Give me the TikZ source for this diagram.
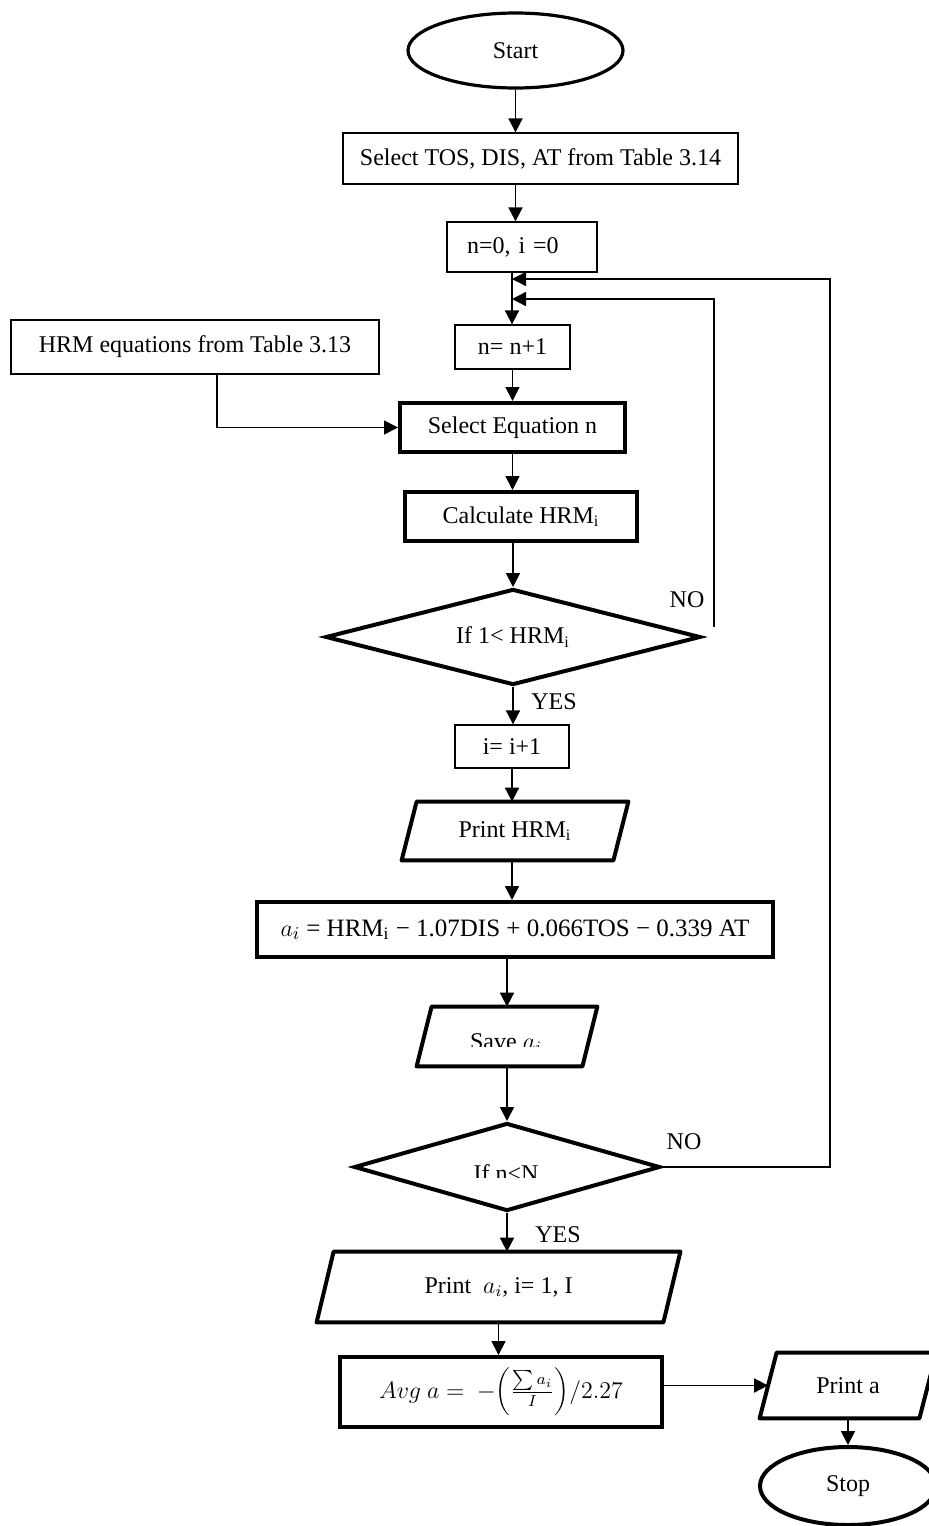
\documentclass[tikz,border=0pt]{standalone}
\usepackage{fontspec}
\setmainfont{Liberation Serif}
\usetikzlibrary{shapes.geometric, arrows.meta, calc}

% slanted input/output frame drawn round a named node: #1 node, #2 half slant
\newcommand\ioframe[2]{%
  \draw[ioline] ([xshift=#2]#1.north west) -- ([xshift=#2]#1.north east)
    -- ([xshift=-#2]#1.south east) -- ([xshift=-#2]#1.south west) -- cycle;}

\begin{document}
\begin{tikzpicture}[x=0.5pt, y=-0.5pt,
  every node/.style={font=\fontsize{12}{14}\selectfont, inner sep=0pt},
  thinbox/.style={draw, line width=0.65pt, rectangle},
  thickbox/.style={draw, line width=2pt, rectangle},
  io/.style={rectangle},
  ioline/.style={line width=2pt, line join=round},
  decision/.style={draw, line width=2pt, diamond, aspect=4},
  terminal/.style={draw, line width=1.6pt, ellipse},
  arr/.style={line width=0.9pt, -{Triangle[length=7pt,width=7pt]}},
  loopline/.style={line width=0.7pt, -{Triangle[length=7pt,width=7pt]}},
  lbl/.style={font=\fontsize{12}{14}\selectfont}
]
\useasboundingbox (0,0) rectangle (929,1526);

% main column
\node[terminal, minimum width=107.5pt, minimum height=37.5pt] (start) at (515.5,50.5) {Start};
\node[thinbox, minimum width=197.5pt, minimum height=25.5pt] (sel) at (540.5,158.5) {Select TOS, DIS, AT from Table 3.14};
\node[thinbox, text width=55pt, inner xsep=10pt, minimum height=25pt, align=left] (n0) at (522,247) {n=0, i =0};
\node[thinbox, minimum width=184pt, minimum height=27pt] (hrm) at (195,347) {HRM equations from Table 3.13};
\node[thinbox, minimum width=57.5pt, minimum height=22pt] (nn) at (512.5,347) {n= n+1};
\node[thickbox, minimum width=112.5pt, minimum height=24.5pt] (seq) at (512.5,427.5) {Select Equation n};
\node[thickbox, minimum width=116pt, minimum height=24.5pt] (calc) at (521,516.5) {Calculate HRM\textsubscript{i}};
\node[decision, minimum width=187.5pt, minimum height=48pt] (d1) at (513,637) {If 1< HRM\textsubscript{i}};
\node[thinbox, minimum width=57pt, minimum height=21.5pt] (ii) at (512,746.5) {i= i+1};
\node[io, minimum width=105.5pt, minimum height=29pt] (phrm) at (515,831) {Print HRM\textsubscript{i}};
\node[thickbox, minimum width=258pt, minimum height=27.5pt, font=\fontsize{12.5}{15}\selectfont] (form) at (515,929.5)
  {$a_i$ = HRM\textsubscript{i} − 1.07DIS + 0.066TOS − 0.339 AT};
\node[io, minimum width=82.5pt, minimum height=29.5pt] (save) at (507,1036.5) {};
\node[decision, minimum width=153pt, minimum height=44pt] (d2) at (507,1167) {};
\node[io, minimum width=173pt, minimum height=35pt] (pai) at (498.5,1287) {Print~ $a_i$, i= 1, I};
\node[thickbox, minimum width=161pt, minimum height=35pt, font=\fontsize{12}{14}\selectfont] (avg) at (501,1392)
  {$Avg\ a =\ -\!\left(\frac{\sum a_i}{I}\right)\!/2.27$};
\node[io, minimum width=79.5pt, minimum height=32.5pt] (pa) at (848,1385.5) {Print a};
\node[terminal, line width=2pt, minimum width=88pt, minimum height=39pt] (stop) at (848,1486) {Stop};

% slanted frames of the input/output steps
\ioframe{phrm}{3.75pt}
\ioframe{save}{3.75pt}
\ioframe{pai}{4.25pt}
\ioframe{pa}{4.25pt}

% texts cut off at the lower edge of their boxes
\begin{scope}
  \clip (420,1010) rectangle (600,1046);
  \node[anchor=base] (savetxt) at (506,1049) {Save $a_i$};
\end{scope}
\begin{scope}
  \clip (420,1150) rectangle (600,1177);
  \node[anchor=base] (d2txt) at (506,1181) {If n<N};
\end{scope}

% branch labels
\node[lbl] (no1lbl) at (687,600) {NO};
\node[lbl] (yes1lbl) at (554,702) {YES};
\node[lbl] (no2lbl) at (684,1142) {NO};
\node[lbl] (yes2lbl) at (558,1235) {YES};

% junction points of the loops
\coordinate (j1) at (512,279);
\coordinate (j2) at (512,299);
\coordinate (r1) at (830,279);
\coordinate (no1) at (714,627);

% connectors
\draw[arr] (start.south) -- (start.south |- sel.north);
\draw[arr] (sel.south -| start.south) -- (n0.north -| start.south);
\draw[arr] (j1 |- n0.south) -- (j1 |- nn.north);
\draw[arr] (hrm.south) ++(22,0) |- (seq.west);
\draw[arr] (nn.south) -- (seq.north);
\draw[arr] (seq.south) -- (seq.south |- calc.north);
\draw[arr] (calc.south -| d1.north) -- (d1.north);
\draw[arr] (d1.south) -- (d1.south |- ii.north);
\draw[arr] (ii.south) -- (ii.south |- phrm.north);
\draw[arr] (ii.south |- phrm.south) -- (ii.south |- form.north);
\draw[arr] (form.south -| save.north) -- (save.north);
\draw[arr] (save.south) -- (d2.north);
\draw[arr] (d2.south) -- (d2.south |- pai.north);
\draw[arr] (pai.south) -- (pai.south |- avg.north);
\draw[arr] (avg.east |- pa.west) -- (pa.west);
\draw[arr] (pa.south) -- (stop.north);

% loop-back lines
\draw[loopline] (d2.east) -| (r1) -- (j1);
\draw[loopline] (no1) |- (j2);
\end{tikzpicture}
\end{document}
